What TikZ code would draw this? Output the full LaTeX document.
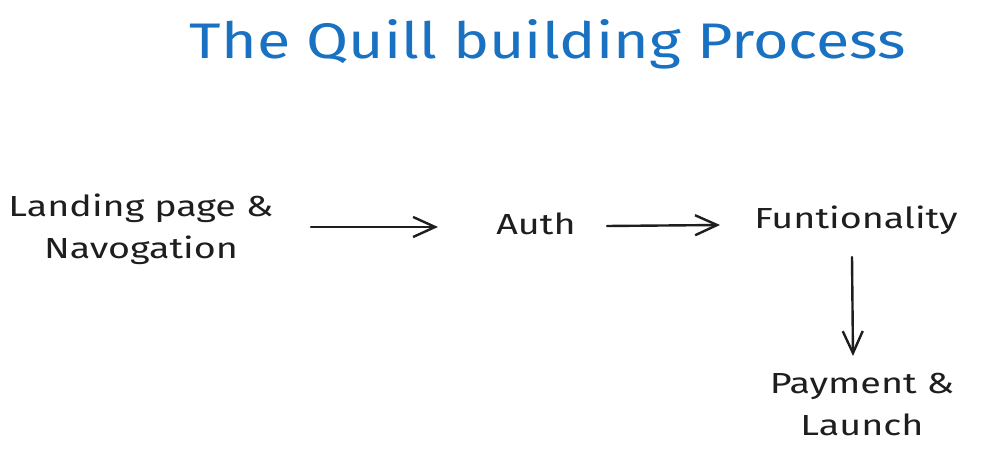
\documentclass[tikz,border=0pt]{standalone}
\usepackage{fontspec}
\setmainfont{Fira Sans}
\newfontfamily\widefont[FakeStretch=1.3]{Fira Sans}
\newfontfamily\titlefont[FakeStretch=1.22]{Fira Sans}
\usetikzlibrary{arrows.meta}
\definecolor{ink}{HTML}{1E1E1E}
\definecolor{titleblue}{HTML}{1971C2}
\tikzset{
  lbl/.style={text=ink, font=\widefont\fontsize{29}{42}\selectfont, align=center, inner sep=0pt},
  ttl/.style={text=titleblue, font=\titlefont\fontsize{50}{60}\selectfont, inner sep=0pt},
  flow/.style={draw=ink, line width=2.4pt, line cap=round, -{Straight Barb[length=22pt,width=20pt,line width=2.4pt]}}
}
\begin{document}
\begin{tikzpicture}[x=1pt,y=-1pt]
\useasboundingbox[fill=white] (0,0) rectangle (986,462);
\node[ttl] (title) at (548,44) {The Quill building Process};
\node[lbl] (landing) at (141,229) {Landing page \&\\Navogation};
\node[lbl] (auth) at (536,224) {Auth};
\node[lbl] (func) at (856,220) {Funtionality};
\node[lbl] (pay) at (862,405) {Payment \&\\Launch};
\coordinate (a1) at (311,227);
\coordinate (a2) at (438,227);
\coordinate (b1) at (607,226);
\coordinate (b2) at (720,225);
\coordinate (c1) at (852,257);
\coordinate (c2) at (853,356);
\draw[flow] (a1) -- (a2);
\draw[flow] (b1) -- (b2);
\draw[flow] (c1) -- (c2);
\end{tikzpicture}
\end{document}
